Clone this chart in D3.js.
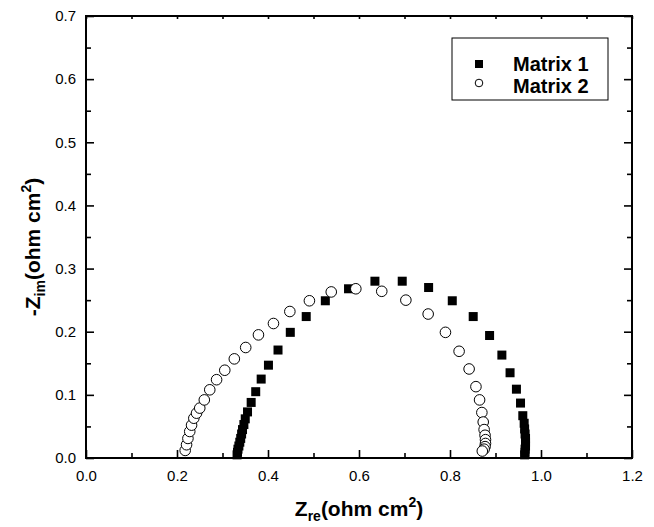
<!DOCTYPE html>
<html>
<head>
<meta charset="utf-8">
<script src="https://cdn.jsdelivr.net/npm/d3@7"></script>
<style>
	body { margin: 0; background: #fff; }
	svg { display: block; }
</style>
</head>
<body>
<div class="chart"></div>
<script>
// Matrix 1 (filled squares) and Matrix 2 (open circles), Nyquist plot
var matrix1Zre = [0.332, 0.333, 0.334, 0.336, 0.338, 0.340, 0.342, 0.344, 0.347, 0.350,
	0.355, 0.363, 0.373, 0.385, 0.401, 0.422, 0.449, 0.484, 0.526, 0.577,
	0.635, 0.695, 0.753, 0.805, 0.851, 0.887, 0.914, 0.932, 0.946, 0.955,
	0.960, 0.963, 0.964, 0.965, 0.966, 0.966, 0.966, 0.965, 0.965, 0.964];
var matrix1Zim = [0.005, 0.009, 0.014, 0.019, 0.025, 0.031, 0.038, 0.045, 0.053, 0.062,
	0.073, 0.088, 0.105, 0.125, 0.147, 0.171, 0.199, 0.224, 0.249, 0.268,
	0.280, 0.280, 0.270, 0.249, 0.224, 0.194, 0.163, 0.135, 0.109, 0.087,
	0.067, 0.055, 0.046, 0.038, 0.031, 0.025, 0.019, 0.014, 0.009, 0.005];
var matrix2Zre = [0.218, 0.221, 0.224, 0.228, 0.232, 0.237, 0.243, 0.250, 0.260, 0.272,
	0.287, 0.305, 0.326, 0.351, 0.379, 0.412, 0.448, 0.491, 0.539, 0.593,
	0.650, 0.703, 0.752, 0.790, 0.820, 0.842, 0.857, 0.865, 0.870, 0.873,
	0.875, 0.877, 0.878, 0.878, 0.877, 0.875, 0.871];
var matrix2Zim = [0.012, 0.021, 0.031, 0.042, 0.052, 0.063, 0.071, 0.079, 0.092, 0.108,
	0.124, 0.139, 0.157, 0.175, 0.195, 0.213, 0.232, 0.249, 0.263, 0.268,
	0.264, 0.250, 0.228, 0.199, 0.169, 0.141, 0.113, 0.092, 0.072, 0.057,
	0.045, 0.036, 0.029, 0.023, 0.018, 0.014, 0.011];
var seriesNames = ['Matrix 1', 'Matrix 2'];
var xMajorTicks = [0, 0.2, 0.4, 0.6, 0.8, 1.0, 1.2];
var xMinorTicks = [0.1, 0.3, 0.5, 0.7, 0.9, 1.1];
var yMajorTicks = [0, 0.1, 0.2, 0.3, 0.4, 0.5, 0.6, 0.7];
var yMinorTicks = [0.05, 0.15, 0.25, 0.35, 0.45, 0.55, 0.65];

var W = 654, H = 527;
var margin = {top: 16, left: 86, bottom: 69, right: 22};
var width = W - margin.left - margin.right,
	height = H - margin.top - margin.bottom;
var fontFamily = '"Liberation Sans", Arial, sans-serif';

var svg = d3.select('.chart').append('svg')
	.attr('width', W)
	.attr('height', H)
	.attr('font-family', fontFamily);

var x = d3.scaleLinear().domain([0, 1.2]).range([0, width]);
var y = d3.scaleLinear().domain([0, 0.7]).range([height, 0]);

var g = svg.append('g')
	.attr('transform', 'translate(' + margin.left + ',' + margin.top + ')');

// axes: ticks point inward, labels only on bottom and left
function styleAxis(sel) {
	sel.select('.domain').remove();
	sel.selectAll('.tick line').attr('stroke', '#000').attr('stroke-width', 1.6);
	sel.selectAll('.tick text').attr('fill', '#000').attr('font-size', '15px');
}
g.append('g').attr('transform', 'translate(0,' + height + ')')
	.call(d3.axisBottom(x).tickValues(xMajorTicks).tickSize(-8).tickPadding(12)
		.tickFormat(d3.format('.1f')))
	.call(styleAxis);
g.append('g').attr('transform', 'translate(0,' + height + ')')
	.call(d3.axisBottom(x).tickValues(xMinorTicks).tickSize(-5).tickFormat(''))
	.call(styleAxis);
g.append('g')
	.call(d3.axisLeft(y).tickValues(yMajorTicks).tickSize(-8).tickPadding(10)
		.tickFormat(d3.format('.1f')))
	.call(styleAxis);
g.append('g')
	.call(d3.axisLeft(y).tickValues(yMinorTicks).tickSize(-5).tickFormat(''))
	.call(styleAxis);
g.append('g')
	.call(d3.axisTop(x).tickValues(xMajorTicks.concat(xMinorTicks)).tickSize(-3).tickFormat(''))
	.call(styleAxis);
g.append('g').attr('transform', 'translate(' + width + ',0)')
	.call(d3.axisRight(y).tickValues(yMajorTicks).tickSize(-8).tickFormat(''))
	.call(styleAxis);
g.append('g').attr('transform', 'translate(' + width + ',0)')
	.call(d3.axisRight(y).tickValues(yMinorTicks).tickSize(-5).tickFormat(''))
	.call(styleAxis);

g.append('rect')
	.attr('width', width)
	.attr('height', height)
	.attr('fill', 'none')
	.attr('stroke', '#000')
	.attr('stroke-width', 2);

// data
var m1 = matrix1Zre.map(function(d, i) { return [d, matrix1Zim[i]]; });
var m2 = matrix2Zre.map(function(d, i) { return [d, matrix2Zim[i]]; });
var sq = 9;
g.selectAll('.m1').data(m1).enter().append('rect')
	.attr('class', 'm1')
	.attr('x', function(d) { return x(d[0]) - sq / 2; })
	.attr('y', function(d) { return y(d[1]) - sq / 2; })
	.attr('width', sq)
	.attr('height', sq)
	.attr('fill', '#000');
g.selectAll('.m2').data(m2).enter().append('circle')
	.attr('class', 'm2')
	.attr('cx', function(d) { return x(d[0]); })
	.attr('cy', function(d) { return y(d[1]); })
	.attr('r', 5.3)
	.attr('fill', '#fff')
	.attr('stroke', '#000')
	.attr('stroke-width', 1);

// legend
var legend = svg.append('g').attr('transform', 'translate(452,38)');
legend.append('rect')
	.attr('width', 156)
	.attr('height', 62)
	.attr('fill', '#fff')
	.attr('stroke', '#000')
	.attr('stroke-width', 1);
legend.append('rect')
	.attr('x', 23).attr('y', 22).attr('width', 8).attr('height', 8)
	.attr('fill', '#000');
legend.append('circle')
	.attr('cx', 27).attr('cy', 45).attr('r', 3.8)
	.attr('fill', '#fff').attr('stroke', '#000');
legend.selectAll('.lt').data(seriesNames).enter().append('text')
	.attr('x', 61)
	.attr('y', function(d, i) { return 33 + i * 22; })
	.attr('font-size', '20px')
	.attr('font-weight', 'bold')
	.text(function(d) { return d; });

// axis titles
var xt = svg.append('text')
	.attr('x', margin.left + width / 2)
	.attr('y', 516)
	.attr('text-anchor', 'middle')
	.attr('font-size', '21px')
	.attr('font-weight', 'bold');
xt.append('tspan').text('Z');
xt.append('tspan').attr('font-size', '14px').attr('dy', 5).text('re');
xt.append('tspan').attr('dy', -5).text('(ohm cm');
xt.append('tspan').attr('font-size', '14px').attr('dy', -9).text('2');
xt.append('tspan').attr('dy', 9).text(')');

var yt = svg.append('text')
	.attr('transform', 'translate(40,' + (margin.top + height / 2 + 10) + ') rotate(-90)')
	.attr('text-anchor', 'middle')
	.attr('font-size', '21px')
	.attr('font-weight', 'bold');
yt.append('tspan').text('-Z');
yt.append('tspan').attr('font-size', '14px').attr('dy', 5).text('im');
yt.append('tspan').attr('dy', -5).text('(ohm cm');
yt.append('tspan').attr('font-size', '14px').attr('dy', -9).text('2');
yt.append('tspan').attr('dy', 9).text(')');
</script>
</body>
</html>
